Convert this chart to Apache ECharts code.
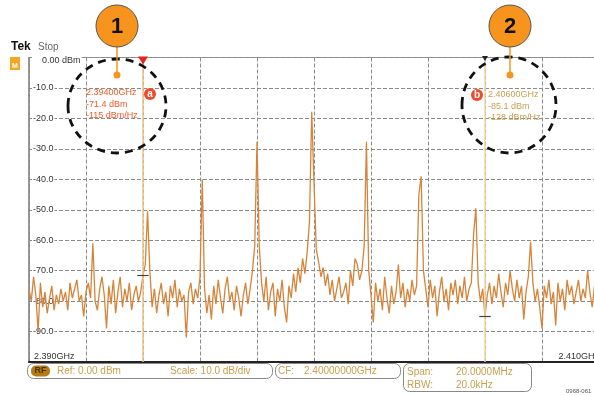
<!DOCTYPE html>
<html><head><meta charset="utf-8">
<script src="https://cdn.jsdelivr.net/npm/echarts@6/dist/echarts.min.js"></script>
<style>html,body{margin:0;padding:0;background:#fff}#c{width:594px;height:396px}</style>
</head><body><div id="c"></div>
<script>
// Frequency axis (MHz) and level axis (dBm)
const freqStartMHz = 2390;
const freqStepMHz = 0.08;
const freqTicksMHz = [2390, 2392, 2394, 2396, 2398, 2400, 2402, 2404, 2406, 2408, 2410];
const levelTicks = [0, -10, -20, -30, -40, -50, -60, -70, -80, -90, -100];
const xEndLabels = ['2.390GHz', '2.410GHz'];

// Trace levels (dBm), one per sample
const levels = [
 -76,-80,-72,-78,-90,-74,-82,-77,-84,-79,-75,-83,-78,-81,-76,-80,-77,-83,-74,-79,-76,-73,-80,-78,-85,-77,-74,-79,
 -61,
 -80,-83,-76,-72,-78,-89,-75,-81,-73,-84,-77,-72,-82,-76,-80,-74,-83,-78,-75,-80,-77,-71.4,-68,
 -50.5,
 -70,-82,-76,-84,-78,-74,-81,-77,-85,-75,-79,-73,-82,-76,-80,-78,-92,-77,-74,-81,-76,-79,-72,
 -40,
 -76,-84,-78,-86,-75,-81,-73,-79,-84,-76,-72,-80,-77,-83,-75,-79,-85,-78,-74,-81,-76,-70,-62,
 -27.7,
 -62,-74,-80,-72,-83,-77,-74,-85,-76,-80,-73,-82,-87,-75,-79,-71,-77,-69,-74,-66,-71,-64,-54,
 -17.8,
 -41,-63,-67,-72,-69,-75,-71,-78,-73,-80,-76,-72,-79,-77,-74,-81,-70,-75,-66,-68,-73,-70,-62,
 -27.7,
 -70,-78,-87,-74,-80,-76,-83,-72,-79,-84,-75,-81,-77,-68,-79,-74,-82,-76,-80,-73,-78,-75,-45,
 -39,
 -70,-76,-82,-73,-79,-75,-85,-77,-72,-80,-76,-83,-74,-78,-73,-81,-75,-79,-72,-80,-76,-74,-58,
 -49.5,
 -74,-80,-76,-85.1,-78,-74,-81,-75,-79,-71,-77,-82,-74,-78,-70,-76,-80,-73,-79,-75,-86,-77,-72,
 -60.5,
 -74,-80,-76,-82,-89,-75,-79,-73,-81,-77,-88,-74,-80,-76,-83,-73,-78,-75,-81,-77,-73,-80,-76,-79,-70,-77,-82,-75,-79,-76
];

// Markers
const markerFreqs = [2394, 2406];
const markerLevels = [-71.4, -85.1];
const markerTextA = ['2.39400GHz', '-71.4 dBm', '-115 dBm/Hz'];
const markerTextB = ['2.40600GHz', '-85.1 dBm', '-128 dBm/Hz'];

const traceData = levels.map((v, i) => [freqStartMHz + i * freqStepMHz, v]);

const FONT = 'Liberation Sans, Arial, sans-serif';
const tan = '#c9a050';

const chart = echarts.init(document.getElementById('c'), null, {renderer: 'canvas'});

function txt(x, y, s, fill, size) {
  return {type: 'text', x: x, y: y, z: 50,
    style: {text: s, fill: fill, font: (size || 9) + 'px ' + FONT, textVerticalAlign: 'middle'}};
}

const graphics = [];
// Tek Stop header
graphics.push({type: 'text', x: 11, y: 47, z: 50, style: {text: 'Tek', fill: '#111', font: 'bold 12px ' + FONT, textVerticalAlign: 'middle'}});
graphics.push({type: 'text', x: 38, y: 47, z: 50, style: {text: 'Stop', fill: '#666', font: '10px ' + FONT, textVerticalAlign: 'middle'}});
graphics.push({type: 'rect', z: 50, shape: {x: 10, y: 57, width: 10, height: 13}, style: {fill: '#f5a623'}});
graphics.push({type: 'text', x: 15, y: 66, z: 51, style: {text: 'M', fill: '#fff', font: 'bold 7px ' + FONT, textAlign: 'center', textVerticalAlign: 'middle'}});

// dashed circles
graphics.push({type: 'ellipse', z: 40, shape: {cx: 117, cy: 106, rx: 49, ry: 47}, style: {fill: 'none', stroke: '#111', lineWidth: 2.8, lineDash: [8, 6]}});
graphics.push({type: 'ellipse', z: 40, shape: {cx: 509, cy: 105, rx: 47, ry: 48}, style: {fill: 'none', stroke: '#111', lineWidth: 2.8, lineDash: [8, 6]}});

// numbered callouts
[[117, '1'], [510, '2']].forEach(function (c) {
  graphics.push({type: 'line', z: 45, shape: {x1: c[0], y1: 46, x2: c[0], y2: 75}, style: {stroke: '#f7941d', lineWidth: 1.5}});
  graphics.push({type: 'circle', z: 46, shape: {cx: c[0], cy: 75, r: 3.5}, style: {fill: '#f7941d'}});
  graphics.push({type: 'circle', z: 46, shape: {cx: c[0], cy: 26, r: 21}, style: {fill: '#f7941d', stroke: '#555', lineWidth: 1}});
  graphics.push({type: 'text', x: c[0], y: 27, z: 47, style: {text: c[1], fill: '#111', font: 'bold 22px ' + FONT, textAlign: 'center', textVerticalAlign: 'middle'}});
});

// marker readouts
markerTextA.forEach(function (s, k) { graphics.push(txt(86, 93 + k * 11.5, s, '#f05a28', 9)); });
markerTextB.forEach(function (s, k) { graphics.push(txt(488, 95 + k * 11.5, s, tan, 9)); });
graphics.push({type: 'circle', z: 48, shape: {cx: 150, cy: 94, r: 6}, style: {fill: '#ee4b2b'}});
graphics.push({type: 'text', x: 150, y: 94, z: 49, style: {text: 'a', fill: '#fff', font: 'bold 10px ' + FONT, textAlign: 'center', textVerticalAlign: 'middle'}});
graphics.push({type: 'circle', z: 48, shape: {cx: 477, cy: 95, r: 6}, style: {fill: '#ee4b2b'}});
graphics.push({type: 'text', x: 477, y: 95, z: 49, style: {text: 'b', fill: '#fff', font: 'bold 10px ' + FONT, textAlign: 'center', textVerticalAlign: 'middle'}});

// status bar
graphics.push({type: 'rect', z: 50, shape: {x: 27.5, y: 363.5, width: 245, height: 15, r: 6}, style: {fill: '#fff', stroke: '#888', lineWidth: 1}});
graphics.push({type: 'rect', z: 50, shape: {x: 275.5, y: 363.5, width: 125, height: 15, r: 6}, style: {fill: '#fff', stroke: '#888', lineWidth: 1}});
graphics.push({type: 'rect', z: 50, shape: {x: 403.5, y: 363.5, width: 128, height: 28, r: 6}, style: {fill: '#fff', stroke: '#888', lineWidth: 1}});
graphics.push({type: 'rect', z: 51, shape: {x: 31, y: 365.5, width: 19, height: 11, r: 5}, style: {fill: '#b47c12'}});
graphics.push({type: 'text', x: 40.5, y: 371, z: 52, style: {text: 'RF', fill: '#4a3000', font: 'bold 9px ' + FONT, textAlign: 'center', textVerticalAlign: 'middle'}});
graphics.push(txt(57, 371, 'Ref: 0.00 dBm', tan, 10));
graphics.push(txt(170, 371, 'Scale: 10.0 dB/div', tan, 10));
graphics.push(txt(278, 371, 'CF:', tan, 10));
graphics.push(txt(304, 371, '2.40000000GHz', tan, 10));
graphics.push(txt(407, 372, 'Span:', tan, 10));
graphics.push(txt(456, 372, '20.0000MHz', tan, 10));
graphics.push(txt(407, 385, 'RBW:', tan, 10));
graphics.push(txt(456, 385, '20.0kHz', tan, 10));
graphics.push(txt(566, 391, '0968-061', '#555', 6));

const option = {
  animation: false,
  backgroundColor: '#fff',
  grid: {left: 29, top: 57.5, width: 570, height: 304.5, show: true, borderColor: '#999', borderWidth: 1,
         containLabel: false, outerBoundsMode: 'none'},
  xAxis: {
    type: 'value', min: freqTicksMHz[0], max: freqTicksMHz[freqTicksMHz.length - 1], interval: 2,
    axisLine: {show: true, onZero: false, lineStyle: {color: '#222', width: 2}},
    axisTick: {show: false},
    splitLine: {show: true, lineStyle: {color: '#8a8a8a', type: [4, 2], width: 1}},
    axisLabel: {
      inside: true, margin: 1, color: '#333', fontSize: 9, fontFamily: FONT,
      alignMinLabel: 'left', alignMaxLabel: 'right',
      formatter: function (v) {
        if (v === freqTicksMHz[0]) return '  ' + xEndLabels[0];
        if (v === freqTicksMHz[freqTicksMHz.length - 1]) return xEndLabels[1];
        return '';
      }
    }
  },
  yAxis: {
    type: 'value', min: levelTicks[levelTicks.length - 1], max: levelTicks[0], interval: 10,
    axisLine: {show: true, onZero: false, lineStyle: {color: '#888', width: 1.5}},
    axisTick: {show: false},
    splitLine: {show: true, lineStyle: {color: '#8a8a8a', type: [4, 2], width: 1}},
    axisLabel: {
      inside: true, margin: 3, color: '#333', fontSize: 9, fontFamily: FONT,
      backgroundColor: '#fff', padding: [0, 1],
      formatter: function (v) {
        if (v === levelTicks[0]) return '{z|0.00 dBm}';
        if (v === levelTicks[levelTicks.length - 1]) return '';
        return v.toFixed(1);
      },
      rich: {z: {fontSize: 9, color: '#333', fontFamily: FONT, padding: [6, 0, 0, 9], backgroundColor: '#fff'}}
    }
  },
  series: [{
    type: 'line', data: traceData, symbol: 'none', z: 3,
    lineStyle: {color: '#d6843a', width: 1.3},
    markLine: {
      silent: true, symbol: 'none', animation: false, label: {show: false},
      data: [
        {xAxis: markerFreqs[0], lineStyle: {color: '#efc288', width: 1.5, type: 'solid'}},
        {xAxis: markerFreqs[1], lineStyle: {color: '#f2d3a4', width: 1.5, type: 'solid'}},
        [{coord: [markerFreqs[0] - 0.2, markerLevels[0]], lineStyle: {color: '#444', width: 1.2, type: 'solid'}}, {coord: [markerFreqs[0] + 0.2, markerLevels[0]]}],
        [{coord: [markerFreqs[1] - 0.2, markerLevels[1]], lineStyle: {color: '#444', width: 1.2, type: 'solid'}}, {coord: [markerFreqs[1] + 0.2, markerLevels[1]]}]
      ]
    },
    markPoint: {
      silent: true, animation: false, label: {show: false},
      data: [
        {coord: [markerFreqs[0], levelTicks[0]], symbol: 'triangle', symbolRotate: 180, symbolSize: [10, 8], symbolOffset: [0, 3], itemStyle: {color: '#e8231c'}},
        {coord: [markerFreqs[1], levelTicks[0]], symbol: 'triangle', symbolRotate: 180, symbolSize: [6, 5], symbolOffset: [0, 1], itemStyle: {color: '#222'}}
      ]
    }
  }],
  graphic: graphics
};
chart.setOption(option);
</script>
</body></html>
